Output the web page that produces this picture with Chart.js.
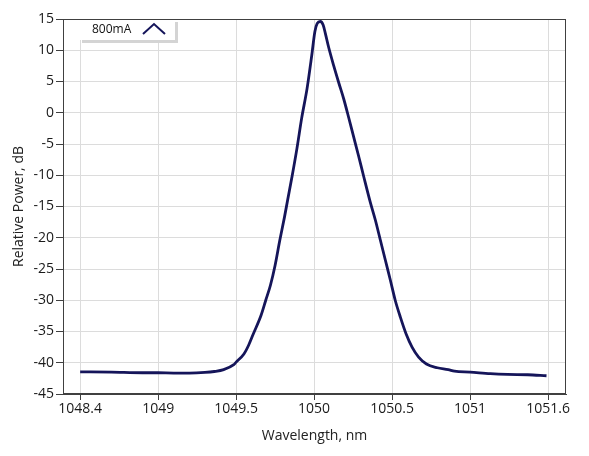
<!DOCTYPE html>
<html>
<head>
<meta charset="utf-8">
<script src="https://cdn.jsdelivr.net/npm/chart.js@4/dist/chart.umd.min.js"></script>
<style>
  html, body { margin: 0; padding: 0; background: #fff; }
  canvas { display: block; }
</style>
</head>
<body>
<canvas id="chart" width="589" height="456"></canvas>
<script>
// spectrum
var wavelength = [1048.50, 1048.70, 1048.90, 1049.00, 1049.10, 1049.20, 1049.30, 1049.36, 1049.42, 1049.485,
  1049.50, 1049.55, 1049.58, 1049.61, 1049.66, 1049.69, 1049.72, 1049.75, 1049.78, 1049.81,
  1049.83, 1049.86, 1049.89, 1049.92, 1049.955, 1049.985, 1050.005, 1050.02, 1050.04, 1050.058,
  1050.072, 1050.094, 1050.126, 1050.158, 1050.19, 1050.222, 1050.254, 1050.286, 1050.318, 1050.36,
  1050.393, 1050.425, 1050.457, 1050.489, 1050.52, 1050.553, 1050.59, 1050.628, 1050.67, 1050.72,
  1050.79, 1050.86, 1050.90, 1051.00, 1051.13, 1051.24, 1051.37, 1051.49];
var power = [-41.45, -41.5, -41.6, -41.6, -41.65, -41.65, -41.55, -41.4, -41.1, -40.3,
  -39.9, -38.6, -37.2, -35.4, -32.4, -30.0, -27.6, -24.4, -20.4, -16.7,
  -14.0, -10.0, -5.7, -0.9, 3.9, 9.2, 13.0, 14.3, 14.6, 14.05,
  12.7, 10.4, 7.5, 4.8, 2.2, -0.8, -3.9, -7.0, -10.2, -14.3,
  -17.2, -20.4, -23.6, -26.8, -30.0, -32.7, -35.4, -37.5, -39.1, -40.2,
  -40.8, -41.1, -41.35, -41.5, -41.75, -41.87, -41.92, -42.08];
var seriesName = "800mA";
var xTickValues = [1048.5, 1049, 1049.5, 1050, 1050.5, 1051, 1051.5];
var xTickLabels = ["1048.4", "1049", "1049.5", "1050", "1050.5", "1051", "1051.6"];

var lineColor = "#15155a";
var font = { family: "'Open Sans', 'Noto Sans', sans-serif", size: 14 };

var points = wavelength.map(function(w, i) {
  return { x: w, y: power[i] };
});

// frame round the plot + boxed legend in the top-left corner
var framePlugin = {
  id: "frame",
  afterDraw: function(chart) {
    var ctx = chart.ctx;
    var a = chart.chartArea;
    ctx.save();
    // legend box
    var bx = 79, by = a.top, bw = 96, bh = 21;
    ctx.fillStyle = "#d4d4d4";
    ctx.fillRect(bx + 3, by + 3, bw, bh);
    ctx.fillStyle = "#ffffff";
    ctx.fillRect(bx, by, bw, bh);
    ctx.fillStyle = "#111";
    ctx.font = "12px " + font.family;
    ctx.textBaseline = "middle";
    ctx.fillText(seriesName, 92, by + 11);
    ctx.strokeStyle = lineColor;
    ctx.lineWidth = 2;
    ctx.beginPath();
    ctx.moveTo(143, by + 15);
    ctx.lineTo(154, by + 5);
    ctx.lineTo(165, by + 15);
    ctx.stroke();
    // border
    ctx.strokeStyle = "#404040";
    ctx.lineWidth = 1;
    ctx.strokeRect(Math.round(a.left) + 0.5, Math.round(a.top) + 0.5,
      Math.round(a.right - a.left) - 1, Math.round(a.bottom - a.top) - 1);
    ctx.restore();
  }
};

new Chart(document.getElementById("chart"), {
  type: "line",
  data: {
    datasets: [{
      label: seriesName,
      data: points,
      borderColor: lineColor,
      borderWidth: 2.8,
      pointRadius: 0,
      cubicInterpolationMode: "monotone",
      fill: false
    }]
  },
  options: {
    responsive: false,
    animation: false,
    layout: { padding: { left: 0, top: 19, right: 23, bottom: 0 } },
    plugins: {
      legend: { display: false },
      tooltip: { enabled: false }
    },
    scales: {
      x: {
        type: "linear",
        min: 1048.39,
        max: 1051.615,
        afterBuildTicks: function(axis) {
          axis.ticks = xTickValues.map(function(v) { return { value: v }; });
        },
        afterFit: function(axis) { axis.height = 62; },
        ticks: {
          color: "#1a1a1a",
          font: font,
          padding: 1,
          maxRotation: 0,
          callback: function(value, index) { return xTickLabels[index]; }
        },
        grid: { color: "#dcdcdc", tickColor: "#404040", tickLength: 6 },
        border: { color: "#404040" },
        title: {
          display: true,
          text: "Wavelength, nm",
          color: "#222",
          font: font,
          padding: { top: 4, bottom: 12 }
        }
      },
      y: {
        min: -45,
        max: 15,
        afterFit: function(axis) { axis.width = 63; },
        ticks: { stepSize: 5, color: "#1a1a1a", font: font, padding: 2 },
        grid: { color: "#dcdcdc", tickColor: "#404040", tickLength: 7 },
        border: { color: "#404040" },
        title: {
          display: true,
          text: "Relative Power, dB",
          color: "#222",
          font: font,
          padding: { top: 11, bottom: 4 }
        }
      }
    }
  },
  plugins: [framePlugin]
});
</script>
</body>
</html>
